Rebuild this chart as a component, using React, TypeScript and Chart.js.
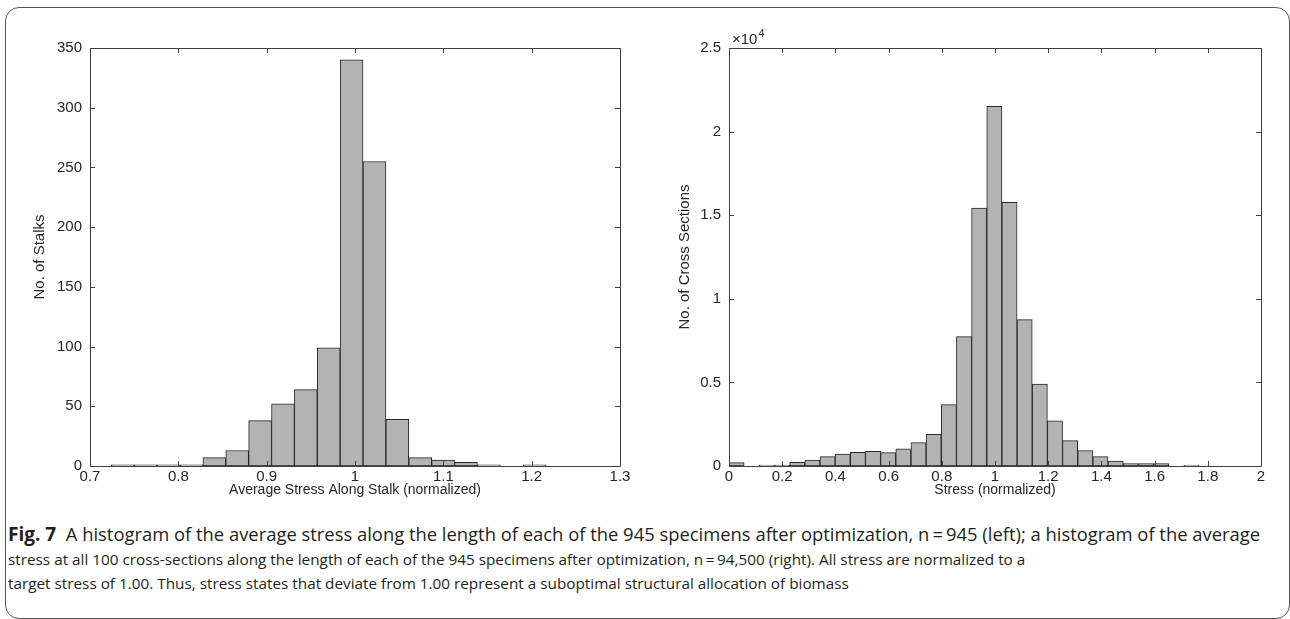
import React, { useEffect, useRef } from "react";
import { Chart, registerables } from "chart.js";
Chart.register(...registerables);

// ---------- Left histogram: average stress along stalk (n = 945) ----------
const leftBinEdges = [
  0.7242, 0.7501, 0.776, 0.8019, 0.8278, 0.8537, 0.8796, 0.9055, 0.9314, 0.9573,
  0.9832, 1.0091, 1.035, 1.0609, 1.0868, 1.1127, 1.1386, 1.1645, 1.1904, 1.2163,
];
const leftCounts = [1, 1, 1, 1, 7, 13, 38, 52, 64, 99, 340, 255, 39, 7, 5, 3, 1, 0, 1];
const leftXTicks = [0.7, 0.8, 0.9, 1.0, 1.1, 1.2, 1.3];
const leftYTicks = [0, 50, 100, 150, 200, 250, 300, 350];

// ---------- Right histogram: stress at all cross sections (n = 94,500) ----------
const rightBinEdges = [
  0.0, 0.057, 0.114, 0.171, 0.228, 0.285, 0.342, 0.399, 0.456, 0.513, 0.57, 0.627,
  0.684, 0.741, 0.798, 0.855, 0.912, 0.969, 1.026, 1.083, 1.14, 1.197, 1.254, 1.311,
  1.368, 1.425, 1.482, 1.539, 1.596, 1.653, 1.71, 1.767,
];
const rightCounts = [
  200, 0, 50, 60, 220, 360, 560, 720, 820, 880, 800, 1020, 1400, 1900, 3670, 7740,
  15420, 21510, 15770, 8750, 4900, 2700, 1520, 920, 560, 300, 140, 140, 140, 0, 50,
];
const rightXTicks = [0, 0.2, 0.4, 0.6, 0.8, 1.0, 1.2, 1.4, 1.6, 1.8, 2.0];
const rightYTicks = [0, 5000, 10000, 15000, 20000, 25000];

const TEXT = "#262626";
const AXIS_FONT = { family: "'Liberation Sans', Arial, sans-serif", size: 15 };
const XTITLE_FONT = { family: "'Liberation Sans', Arial, sans-serif", size: 14 };

type HistProps = {
  edges: number[];
  counts: number[];
  xTicks: number[];
  yTicks: number[];
  xTitle: string;
  yTitle: string;
  yFormat: (v: number) => string;
  exponent?: string;
  left: number;
  yAxisWidth: number;
  padRight: number;
};

const fmt = (v: number) => String(Number(v.toFixed(3)));

function Histogram(p: HistProps) {
  const ref = useRef<HTMLCanvasElement | null>(null);
  useEffect(() => {
    if (!ref.current) return;
    const centers = p.counts.map((_, i) => (p.edges[i] + p.edges[i + 1]) / 2);
    const framePlugin = {
      id: "matlabFrame",
      afterDatasetsDraw(chart: any) {
        const { ctx, chartArea: a, scales } = chart;
        ctx.save();
        ctx.strokeStyle = "#404040";
        ctx.lineWidth = 1;
        ctx.beginPath();
        ctx.rect(Math.round(a.left) + 0.5, Math.round(a.top) + 0.5, Math.round(a.right - a.left), Math.round(a.bottom - a.top));
        ctx.stroke();
        const tl = 5;
        ctx.beginPath();
        for (const t of scales.x.ticks) {
          const x = Math.round(scales.x.getPixelForValue(t.value)) + 0.5;
          ctx.moveTo(x, a.bottom);
          ctx.lineTo(x, a.bottom - tl);
          ctx.moveTo(x, a.top);
          ctx.lineTo(x, a.top + tl);
        }
        for (const t of scales.y.ticks) {
          const y = Math.round(scales.y.getPixelForValue(t.value)) + 0.5;
          ctx.moveTo(a.left, y);
          ctx.lineTo(a.left + tl, y);
          ctx.moveTo(a.right, y);
          ctx.lineTo(a.right - tl, y);
        }
        ctx.stroke();
        if (p.exponent) {
          ctx.fillStyle = TEXT;
          ctx.textBaseline = "alphabetic";
          ctx.textAlign = "left";
          ctx.font = "15px 'Liberation Sans', Arial, sans-serif";
          const base = "\u00d710";
          ctx.fillText(base, a.left + 3, a.top - 4);
          const w = ctx.measureText(base).width;
          ctx.font = "11px 'Liberation Sans', Arial, sans-serif";
          ctx.fillText(p.exponent, a.left + 3 + w + 1, a.top - 11);
        }
        ctx.restore();
      },
    };
    const chart = new Chart(ref.current, {
      type: "bar",
      data: {
        datasets: [
          {
            data: centers.map((x, i) => ({ x, y: p.counts[i] })),
            backgroundColor: "#b3b3b3",
            borderColor: "#262626",
            borderWidth: 1,
            borderSkipped: false,
            barPercentage: 1,
            categoryPercentage: 1,
          } as any,
        ],
      },
      options: {
        animation: false,
        responsive: false,
        maintainAspectRatio: false,
        layout: { padding: { left: 0, top: 48, right: p.padRight, bottom: 4 } },
        plugins: { legend: { display: false }, tooltip: { enabled: false } },
        scales: {
          x: {
            type: "linear",
            offset: false,
            min: p.xTicks[0],
            max: p.xTicks[p.xTicks.length - 1],
            grid: { display: false, drawTicks: false },
            border: { display: false },
            ticks: { padding: 2, font: AXIS_FONT, color: TEXT, maxRotation: 0, autoSkip: false, callback: (v: any) => fmt(Number(v)) },
            afterBuildTicks: (s: any) => {
              s.ticks = p.xTicks.map((value) => ({ value }));
            },
            afterFit: (s: any) => {
              s.height = 40;
            },
            title: { display: true, text: p.xTitle, font: XTITLE_FONT, color: TEXT, padding: { top: 0, bottom: 7 } },
          },
          y: {
            type: "linear",
            min: p.yTicks[0],
            max: p.yTicks[p.yTicks.length - 1],
            grid: { display: false, drawTicks: false },
            border: { display: false },
            ticks: { padding: 8, font: AXIS_FONT, color: TEXT, autoSkip: false, callback: (v: any) => p.yFormat(Number(v)) },
            afterBuildTicks: (s: any) => {
              s.ticks = p.yTicks.map((value) => ({ value }));
            },
            afterFit: (s: any) => {
              s.width = p.yAxisWidth;
            },
            title: { display: true, text: p.yTitle, font: AXIS_FONT, color: TEXT, padding: { top: 31, bottom: 0 } },
          },
        },
      } as any,
      plugins: [framePlugin],
    });
    return () => chart.destroy();
  }, []);
  return (
    <canvas
      ref={ref}
      width={640}
      height={510}
      style={{ position: "absolute", left: p.left, top: 0, width: 640, height: 510 }}
    />
  );
}

export default function App() {
  const cap: React.CSSProperties = {
    position: "absolute",
    left: 8,
    top: 522,
    fontFamily: "'Open Sans', 'Noto Sans', sans-serif",
    fontSize: 15.3,
    lineHeight: "24.5px",
    color: "#231f20",
    whiteSpace: "nowrap",
  };
  return (
    <div style={{ position: "fixed", left: 0, top: 0, width: 1290, height: 619, background: "#fff", overflow: "hidden" }}>
      <div
        style={{
          position: "absolute",
          left: 5,
          top: 7,
          width: 1285,
          height: 612,
          border: "1.3px solid #555",
          borderRadius: 14,
          boxSizing: "border-box",
        }}
      />
      <Histogram
        edges={leftBinEdges}
        counts={leftCounts}
        xTicks={leftXTicks}
        yTicks={leftYTicks}
        xTitle="Average Stress Along Stalk (normalized)"
        yTitle="No. of Stalks"
        yFormat={(v) => fmt(v)}
        left={0}
        yAxisWidth={90}
        padRight={20}
      />
      <Histogram
        edges={rightBinEdges}
        counts={rightCounts}
        xTicks={rightXTicks}
        yTicks={rightYTicks}
        xTitle="Stress (normalized)"
        yTitle="No. of Cross Sections"
        yFormat={(v) => fmt(v / 10000)}
        exponent="4"
        left={645}
        yAxisWidth={84}
        padRight={24}
      />
      <div style={cap}>
        <div style={{ fontSize: 18.4 }}>
          <b style={{ fontSize: 19 }}>Fig. 7</b>&nbsp; A histogram of the average stress along the length of each of the 945 specimens after optimization, n{"\u2009=\u2009"}945 (left); a histogram of the average
        </div>
        <div>
          stress at all 100 cross-sections along the length of each of the 945 specimens after optimization, n{"\u2009=\u2009"}94,500 (right). All stress are normalized to a
        </div>
        <div>target stress of 1.00. Thus, stress states that deviate from 1.00 represent a suboptimal structural allocation of biomass</div>
      </div>
    </div>
  );
}
